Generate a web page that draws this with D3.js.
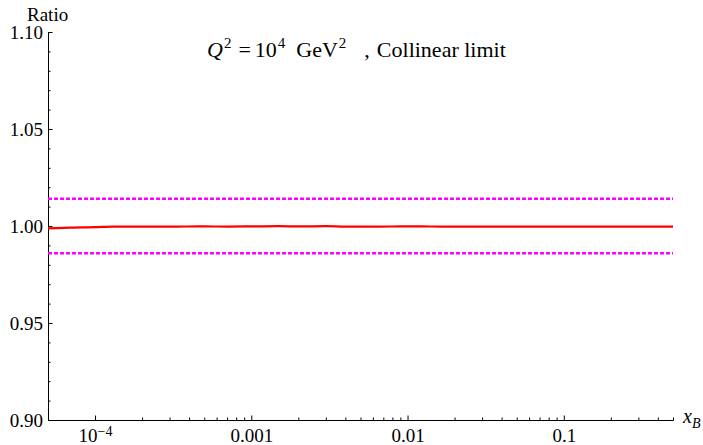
<!DOCTYPE html>
<html>
  <head>
    <meta http-equiv="Content-Type" content="text/html;charset=utf-8">
    <title>Ratio, collinear limit</title>
    <script src="https://d3js.org/d3.v7.min.js"></script>
    <style>
      html, body { margin: 0; padding: 0; background: #fff; }
      svg { display: block; }
      text { font-family: "Liberation Serif", "Times New Roman", Times, "DejaVu Serif", serif; fill: #000; }
      .axis path, .axis line { stroke: #000; stroke-width: 1px; }
    </style>
  </head>
  <body>
<script type="text/javascript">

// red curve: x_B and ratio
var xB    = [5e-5, 7e-5, 1e-4, 1.3e-4, 2e-4, 3e-4, 5e-4, 7e-4, 1e-3, 1.5e-3, 2e-3, 3e-3, 4e-3, 6e-3, 1e-2, 2e-2, 5e-2, 0.1, 0.2, 0.5];
var ratio = [0.9988, 0.9992, 0.9994, 0.9997, 0.9997, 0.9997, 0.9998, 0.9997, 0.9998, 0.9999, 0.9998, 0.9999, 0.9997, 0.9997, 0.9998, 0.9997, 0.9997, 0.9997, 0.9997, 0.9997];

// dotted band
var bandLevels = [1.014, 0.986];

var yTicks = [0.90, 0.95, 1.00, 1.05, 1.10];
var xTicks = [1e-4, 1e-3, 1e-2, 1e-1];
var xTickLabels = ["10^-4", "0.001", "0.01", "0.1"];

var W = 703, H = 445;
var serif = "'Liberation Serif', 'Times New Roman', Times, 'DejaVu Serif', serif";
var svg = d3.select("body").append("svg").attr("width", W).attr("height", H);

var x = d3.scaleLog().domain([5e-5, 0.5]).range([48, 673]);
var y = d3.scaleLinear().domain([0.9, 1.1]).range([420, 32]);

// minor ticks
var xMinor = [];
[1e-4, 1e-3, 1e-2, 1e-1].forEach(function(d) {
  for (var k = 2; k <= 9; k++) if (d * k <= 0.5) xMinor.push(d * k);
});
var yMinor = d3.range(0.90, 1.1001, 0.01).filter(function(v) {
  return Math.abs(Math.round(v * 20) - v * 20) > 1e-6;
});

function fixFont(g) {
  g.attr("font-family", serif).attr("font-size", 19);
  g.selectAll("text").style("font-family", serif).style("font-size", "19px");
}

svg.append("g").attr("class", "axis")
  .attr("transform", "translate(0,420)")
  .call(d3.axisBottom(x).tickValues(xMinor).tickSizeInner(-2.5).tickSizeOuter(0).tickFormat(""));
var gx = svg.append("g").attr("class", "axis")
  .attr("transform", "translate(0,420)")
  .call(d3.axisBottom(x).tickValues(xTicks).tickSizeInner(-4.5).tickSizeOuter(0).tickPadding(9)
    .tickFormat(function(d, i) { return xTickLabels[i]; }))
  .call(fixFont);

gx.selectAll("text").each(function(d, i) {
  var lab = xTickLabels[i];
  if (lab.indexOf("^") < 0) return;
  var parts = lab.split("^");
  var t = d3.select(this).text("");
  t.append("tspan").text(parts[0]);
  t.append("tspan").attr("dy", "-0.45em").style("font-size", "14px").text(parts[1].replace("-", "\u2212"));
});

svg.append("g").attr("class", "axis")
  .attr("transform", "translate(48,0)")
  .call(d3.axisLeft(y).tickValues(yMinor).tickSizeInner(-2.5).tickSizeOuter(0).tickFormat(""));
svg.append("g").attr("class", "axis")
  .attr("transform", "translate(48,0)")
  .call(d3.axisLeft(y).tickValues(yTicks).tickSizeInner(-4.5).tickSizeOuter(0).tickPadding(5)
    .tickFormat(d3.format(".2f")))
  .call(fixFont);

// band
svg.selectAll(".band").data(bandLevels).enter().append("line")
  .attr("x1", x(5e-5)).attr("x2", x(0.5))
  .attr("y1", function(d) { return y(d); }).attr("y2", function(d) { return y(d); })
  .style("stroke", "#ff00ff").style("stroke-width", 2.5)
  .style("stroke-dasharray", "4,2");

var lineFunction = d3.line()
  .x(function(d, i) { return x(xB[i]); })
  .y(function(d) { return y(d); })
  .curve(d3.curveMonotoneX);

svg.append("path").datum(ratio)
  .attr("d", lineFunction)
  .style("stroke", "#ff0000").style("stroke-width", 2.2).style("fill", "none");

// labels
svg.append("text").attr("x", 27).attr("y", 21)
  .style("font-size", "19px").text("Ratio");

var xl = svg.append("text").attr("x", 683).attr("y", 423).style("font-size", "20px");
xl.append("tspan").style("font-style", "italic").text("x");
xl.append("tspan").attr("dy", 5).style("font-size", "14px").style("font-style", "italic").text("B");

// title as one text with tspans
var title = svg.append("text").attr("x", 207).attr("y", 57).style("font-size", "22px");
title.append("tspan").style("font-style", "italic").text("Q");
title.append("tspan").attr("dx", 1).attr("dy", -9).style("font-size", "15px").text("2");
title.append("tspan").attr("dx", 7).attr("dy", 9).text("=");
title.append("tspan").attr("dx", 4).text("10");
title.append("tspan").attr("dx", 1).attr("dy", -9).style("font-size", "15px").text("4");
title.append("tspan").attr("dx", 11).attr("dy", 9).text("GeV");
title.append("tspan").attr("dx", 1).attr("dy", -9).style("font-size", "15px").text("2");
title.append("tspan").attr("dx", 18).attr("dy", 9).text(",");
title.append("tspan").attr("dx", 7).text("Collinear limit");

</script>
  </body>
</html>
